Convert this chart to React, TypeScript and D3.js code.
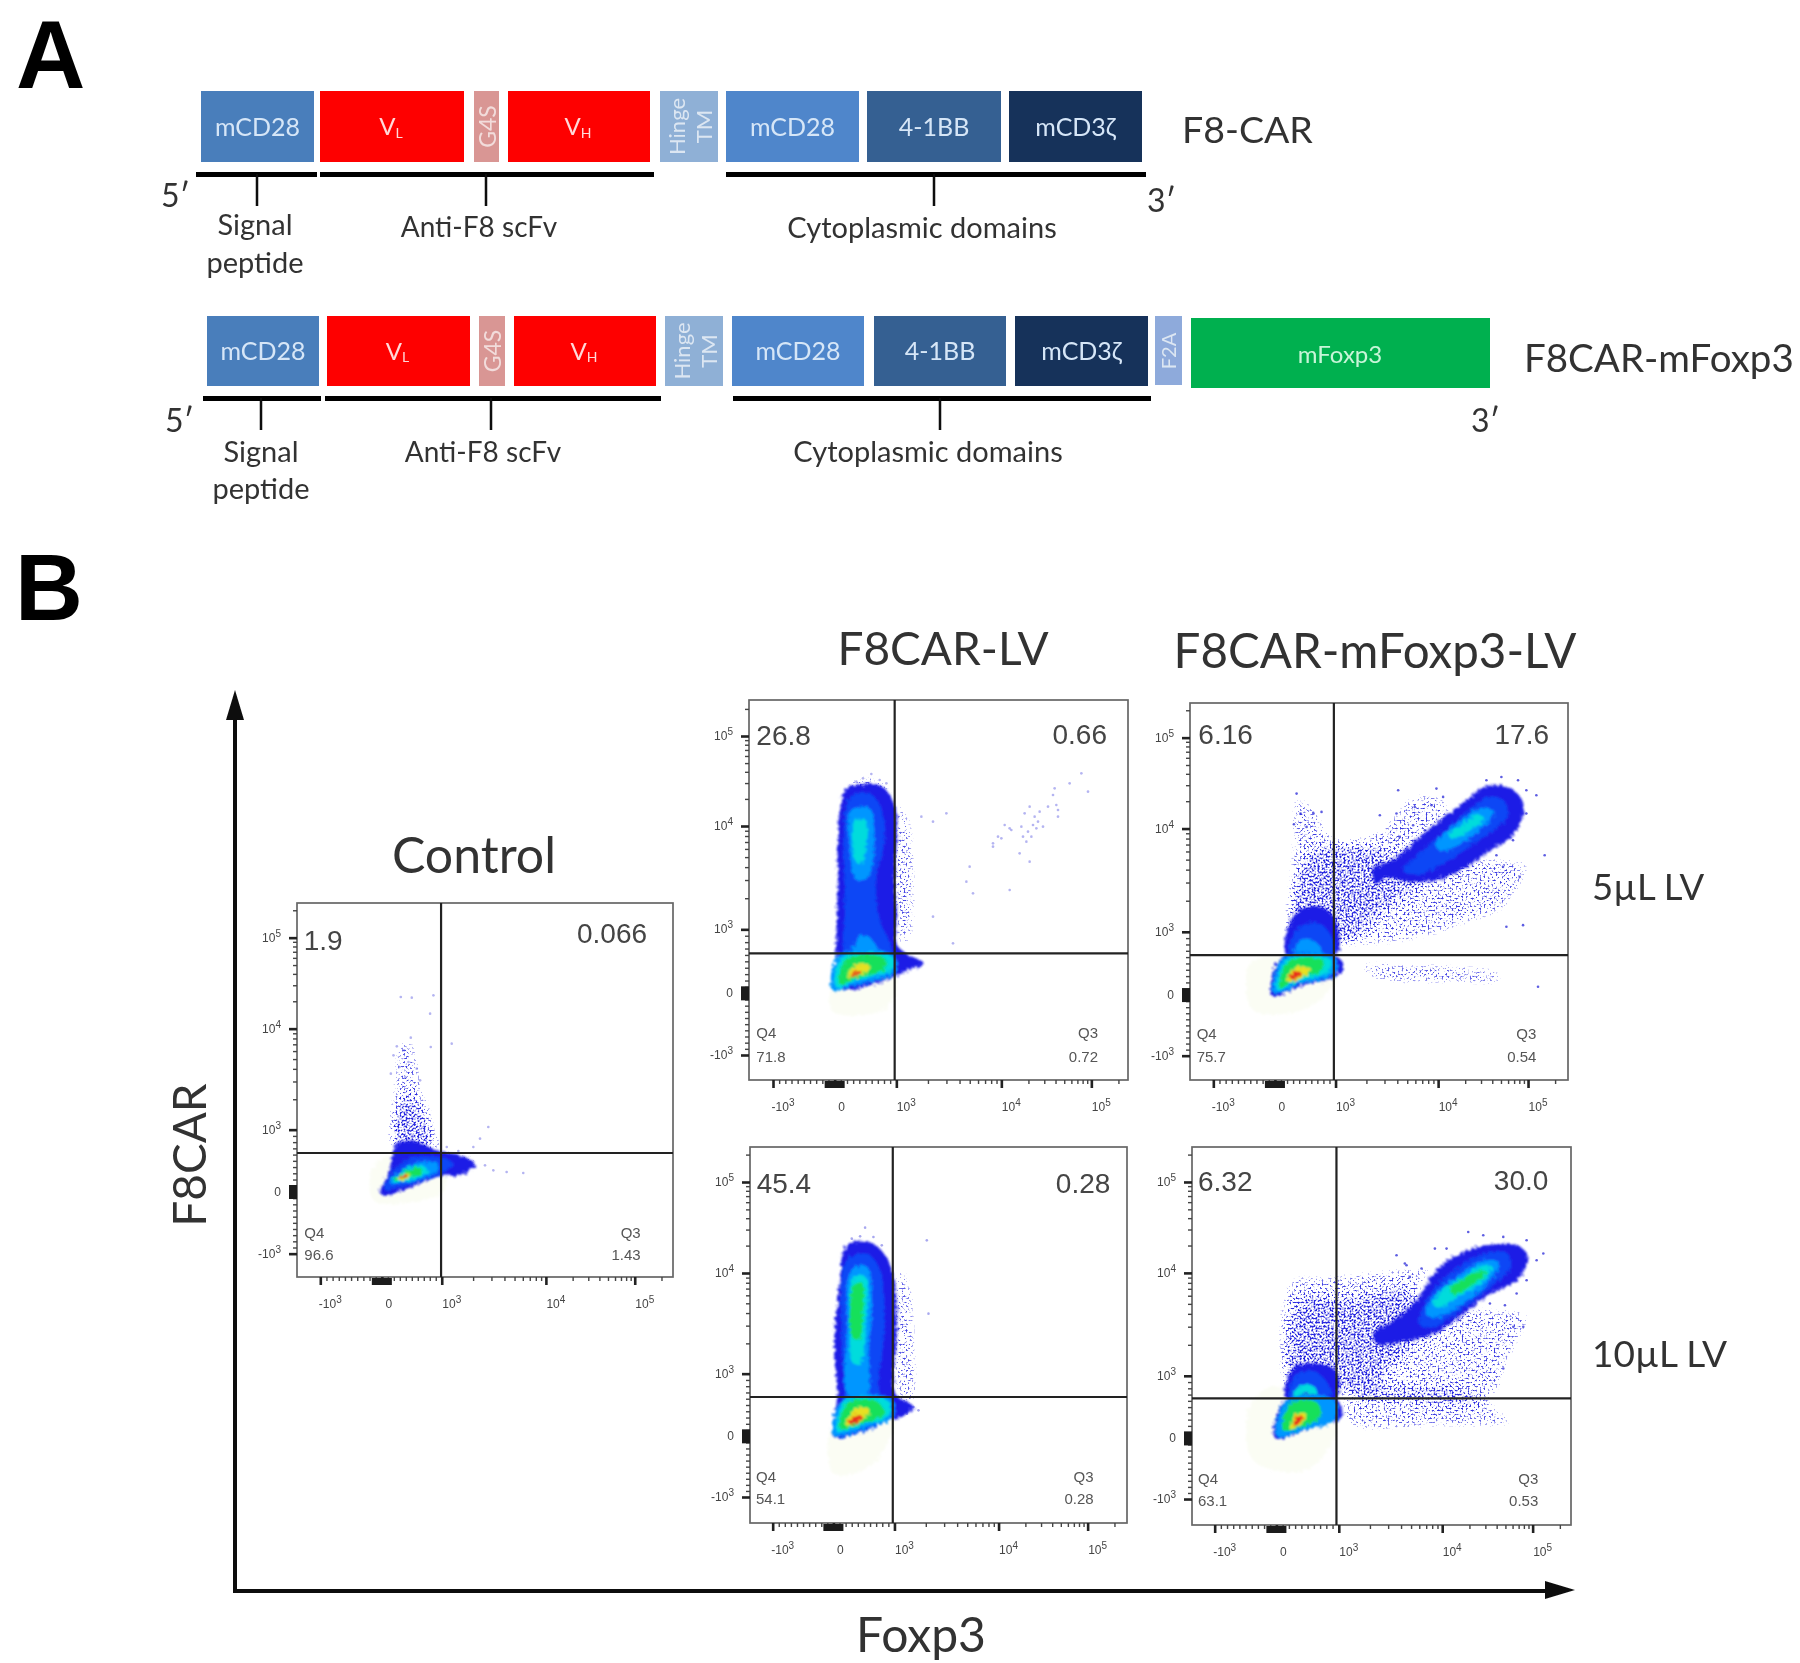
import React, { useEffect, useRef } from 'react';
import * as d3 from 'd3';

type Pt = [number, number];
type Contour = [number, Pt[]];

// Panel A: construct segments (positions along the construct)
const carLabels = ['mCD28', 'VL', 'G4S', 'VH', 'Hinge TM', 'mCD28', '4-1BB', 'mCD3ζ'];
const carColors = ['#4a7ebb', '#fe0000', '#d99694', '#fe0000', '#8fb0d6', '#4f86cb', '#366092', '#14305a'];
const car1Starts = [201, 320, 474, 508, 660, 726, 867, 1009];
const car1Ends = [314, 464, 499, 650, 718, 859, 1001, 1142];
const car2Starts = [207, 327, 479, 514, 665, 732, 874, 1015];
const car2Ends = [319, 470, 505, 656, 723, 864, 1006, 1148];
const car1Bars = [[196, 317], [320, 654], [726, 1146]];
const car2Bars = [[203, 321], [325, 661], [733, 1151]];
const car1Stems = [257, 486, 934];
const car2Stems = [261, 491, 940];

// Flow panels: colour levels of the pseudocolour density
// level -1 = sparse events, 1 = dense events, both drawn as grain; 0 = pale halo
const levelColors = ['#fbfdf4', '#b4b4f6', '#1a1ae6', '#0b46f5', '#0096ff', '#00dcdc', '#12e05a', '#e8e020', '#e8301a'];

const ctrlContours: Contour[] = [
  [0, [[395, 870], [440, 830], [600, 830], [610, 930], [520, 965], [400, 960]]],
  [-1, [[470, 470], [525, 470], [560, 600], [590, 700], [600, 810], [445, 810], [445, 620]]],
  [1, [[458, 810], [465, 690], [500, 640], [545, 690], [590, 810]]],
  [-1, [[600, 800], [700, 815], [745, 860], [700, 880], [620, 860]]],
  [2, [[420, 938], [448, 872], [458, 812], [478, 785], [530, 785], [590, 810], [660, 826], [705, 850], [670, 882], [600, 888], [500, 925], [438, 945]]],
  [3, [[432, 928], [470, 860], [520, 832], [605, 832], [640, 850], [600, 882], [500, 915]]],
  [4, [[448, 908], [490, 868], [530, 848], [592, 848], [592, 872], [500, 906]]],
  [5, [[455, 904], [495, 868], [545, 856], [565, 872], [495, 902]]],
  [6, [[462, 900], [500, 870], [540, 862], [545, 876], [490, 898]]],
  [7, [[472, 896], [498, 878], [512, 884], [486, 900]]],
  [8, [[478, 893], [496, 882], [502, 886], [486, 896]]],
];
const f5Contours: Contour[] = [
  [0, [[400, 925], [590, 890], [560, 985], [400, 995]]],
  [-1, [[590, 330], [640, 400], [660, 560], [640, 800], [590, 810]]],
  [-1, [[430, 300], [520, 272], [590, 320], [560, 360], [440, 350]]],
  [2, [[440, 328], [490, 312], [548, 320], [585, 375], [592, 450], [585, 600], [592, 700], [590, 790], [625, 825], [672, 850], [620, 872], [585, 890], [420, 925], [410, 820], [414, 650], [414, 500], [420, 400]]],
  [3, [[450, 352], [505, 338], [540, 375], [556, 470], [530, 600], [540, 720], [575, 800], [585, 870], [425, 915], [430, 810], [436, 650], [432, 470]]],
  [4, [[452, 392], [510, 385], [524, 480], [506, 592], [470, 600], [450, 500]]],
  [5, [[466, 425], [498, 420], [500, 500], [484, 552], [468, 545], [458, 490]]],
  [4, [[458, 822], [478, 770], [508, 770], [535, 822]]],
  [4, [[398, 932], [418, 825], [582, 825], [585, 878], [470, 912]]],
  [5, [[410, 922], [428, 832], [578, 830], [578, 866], [470, 902]]],
  [6, [[420, 914], [442, 835], [556, 835], [556, 866], [468, 896]]],
  [7, [[442, 892], [470, 852], [510, 858], [485, 885]]],
  [8, [[452, 888], [470, 872], [486, 876], [462, 892]]],
];
const m5Contours: Contour[] = [
  [0, [[330, 850], [410, 830], [590, 890], [500, 985], [340, 990]]],
  [-1, [[460, 330], [540, 380], [590, 460], [720, 430], [800, 340], [900, 330], [950, 400], [850, 500], [1060, 520], [1180, 540], [1100, 700], [1000, 740], [850, 790], [700, 810], [590, 810], [440, 810], [440, 520]]],
  [1, [[450, 810], [470, 620], [510, 520], [580, 500], [680, 500], [780, 530], [850, 600], [800, 640], [720, 700], [640, 780], [590, 810]]],
  [-1, [[640, 845], [800, 835], [1100, 870], [1100, 918], [960, 925], [680, 905]]],
  [2, [[1040, 318], [1112, 324], [1152, 372], [1130, 452], [1050, 512], [960, 572], [880, 602], [800, 602], [740, 592], [708, 612], [700, 570], [760, 538], [830, 480], [900, 420], [980, 360]]],
  [3, [[1040, 350], [1092, 360], [1102, 410], [1030, 472], [940, 532], [840, 582], [790, 572], [850, 510], [930, 440], [990, 390]]],
  [4, [[1030, 382], [1064, 394], [1040, 432], [960, 492], [900, 512], [888, 490], [950, 430]]],
  [5, [[1012, 402], [1034, 414], [982, 456], [935, 476], [928, 460], [970, 430]]],
  [2, [[438, 820], [468, 700], [540, 680], [586, 720], [590, 820]]],
  [3, [[448, 820], [480, 740], [540, 730], [582, 785], [582, 820]]],
  [4, [[462, 822], [490, 775], [530, 788], [548, 822]]],
  [2, [[392, 945], [428, 830], [590, 830], [612, 860], [585, 890], [480, 918], [410, 948]]],
  [4, [[402, 938], [432, 832], [584, 832], [584, 882], [478, 912]]],
  [5, [[412, 930], [440, 838], [572, 838], [570, 872], [472, 905]]],
  [6, [[420, 924], [446, 842], [552, 842], [546, 870], [470, 900]]],
  [7, [[438, 902], [470, 860], [512, 866], [482, 896]]],
  [8, [[448, 892], [470, 874], [486, 880], [460, 898]]],
];
const f10Contours: Contour[] = [
  [0, [[400, 890], [580, 860], [520, 1000], [400, 1030]]],
  [-1, [[590, 370], [640, 440], [660, 620], [650, 830], [590, 830]]],
  [2, [[438, 346], [500, 333], [552, 370], [582, 450], [590, 600], [586, 790], [640, 830], [600, 862], [575, 866], [500, 892], [402, 920], [412, 790], [403, 650], [420, 450]]],
  [3, [[440, 390], [500, 370], [540, 420], [552, 600], [540, 790], [575, 810], [575, 858], [410, 915], [430, 790], [424, 600]]],
  [4, [[454, 418], [500, 408], [516, 500], [506, 650], [500, 795], [445, 795], [440, 600]]],
  [5, [[460, 440], [496, 440], [498, 570], [482, 700], [460, 700], [450, 560]]],
  [6, [[460, 465], [486, 458], [490, 540], [476, 630], [456, 620], [450, 530]]],
  [4, [[400, 915], [430, 808], [576, 808], [576, 862], [500, 890]]],
  [5, [[412, 905], [436, 812], [564, 812], [566, 855], [480, 886]]],
  [6, [[420, 896], [445, 816], [532, 814], [552, 850], [470, 884]]],
  [7, [[436, 884], [470, 832], [508, 838], [482, 872]]],
  [8, [[446, 878], [470, 853], [486, 860], [460, 882]]],
];
const m10Contours: Contour[] = [
  [0, [[330, 830], [400, 770], [590, 880], [500, 1020], [340, 990]]],
  [-1, [[440, 440], [590, 420], [800, 400], [900, 400], [850, 500], [1060, 520], [1180, 540], [1110, 720], [1085, 795], [780, 795], [600, 795], [436, 800]]],
  [1, [[445, 800], [450, 600], [490, 500], [590, 510], [700, 490], [820, 480], [860, 560], [820, 640], [740, 720], [700, 790], [590, 800]]],
  [-1, [[600, 812], [1060, 815], [1140, 890], [900, 905], [620, 900]]],
  [2, [[1040, 345], [1130, 345], [1165, 380], [1130, 452], [1050, 490], [960, 560], [880, 612], [790, 635], [715, 642], [700, 610], [760, 570], [830, 510], [890, 420], [960, 370]]],
  [3, [[1040, 368], [1102, 370], [1112, 410], [1050, 472], [960, 542], [880, 592], [838, 582], [860, 510], [930, 430]]],
  [4, [[1030, 392], [1077, 395], [1060, 440], [980, 512], [890, 562], [858, 552], [880, 500], [950, 440]]],
  [5, [[1020, 408], [1057, 410], [1030, 452], [960, 497], [900, 532], [878, 520], [920, 470], [970, 440]]],
  [6, [[1010, 424], [1042, 425], [1000, 462], [945, 492], [928, 480], [970, 445]]],
  [2, [[438, 802], [460, 715], [520, 700], [586, 720], [590, 802]]],
  [3, [[450, 802], [470, 735], [525, 725], [570, 770], [572, 802]]],
  [5, [[458, 802], [480, 768], [522, 768], [532, 802]]],
  [2, [[406, 924], [438, 808], [590, 808], [606, 860], [490, 902]]],
  [4, [[412, 918], [442, 810], [585, 810], [585, 870], [490, 900]]],
  [6, [[430, 902], [450, 820], [530, 815], [542, 860], [470, 896]]],
  [7, [[450, 896], [470, 850], [502, 855], [480, 886]]],
  [8, [[460, 886], [475, 856], [490, 860], [470, 886]]],
];

// Individual events visible outside the dense cores
const ctrlEvents: Pt[] = [
  [470, 498], [492, 510], [512, 472], [460, 525], [505, 545], [478, 560], [530, 565], [452, 580], [495, 590], [540, 600],
  [482, 350], [515, 352], [580, 345], [570, 400], [572, 500], [635, 490], [720, 775], [745, 740], [700, 800], [760, 870],
  [800, 875], [850, 878], [620, 800], [655, 812], [690, 845], [735, 855],
];
const f5Events: Pt[] = [
  [515, 282], [540, 300], [490, 295], [470, 305], [560, 310], [740, 400], [700, 425], [665, 410], [800, 605], [820, 640],
  [930, 630], [700, 710], [760, 790], [810, 560], [880, 500], [905, 475], [915, 435], [935, 450], [965, 440], [975, 400],
  [990, 380], [1005, 410], [1020, 395], [1030, 440], [995, 470], [980, 485], [960, 520], [990, 545], [1045, 380], [1065, 325],
  [1070, 375], [1075, 410], [1110, 310], [1165, 335], [1145, 280], [1000, 435], [1015, 425], [985, 455], [1010, 445], [970, 470],
  [1060, 345], [1075, 390], [880, 490], [895, 470], [930, 445],
];
const m5Events: Pt[] = [
  [470, 340], [482, 400], [520, 398], [545, 395], [462, 432], [500, 440], [775, 330], [825, 380], [875, 375], [770, 400],
  [720, 405], [820, 435], [780, 470], [855, 450], [890, 325], [910, 350], [1090, 560], [1215, 525], [1140, 590], [1100, 740],
  [1150, 735], [1195, 920], [1040, 300], [1085, 290], [1135, 300], [1160, 330], [1190, 345], [1160, 400], [1120, 480], [1070, 525],
];
const f10Events: Pt[] = [
  [680, 330], [685, 550], [495, 292], [455, 325], [480, 318], [520, 320], [545, 345], [640, 830], [655, 840], [620, 850],
];
const m10Events: Pt[] = [
  [795, 400], [810, 440], [1120, 590], [1150, 590], [985, 305], [1030, 315], [1090, 320], [1160, 330], [1210, 370], [1190, 390],
  [1160, 450], [1130, 490], [1095, 525], [885, 355], [920, 355], [770, 375], [800, 405], [845, 415], [1050, 520], [1090, 715],
];

// Flow panels: names keep the order of drawing
const panelKeys = ['ctrl', 'f5', 'm5', 'f10', 'm10'];
const panelBoxes = [[297, 903, 673, 1277], [749, 700, 1128, 1080], [1190, 703, 1568, 1080], [750, 1147, 1127, 1523], [1192, 1147, 1571, 1525]];
const panelXDomains = [[170, 1300], [148, 1285], [150, 1285], [150, 1280], [157, 1293]];
const panelYDomains = [[1190, 68], [1200, 60], [1200, 68], [1178, 50], [1185, 50]];
const panelXGates = [603, 585, 582, 578, 590];
const panelYGates = [818, 820, 825, 800, 805];
const panelXTicks = [[240, 425, 605, 918, 1185], [220, 405, 590, 905, 1175], [220, 405, 587, 895, 1165], [218, 400, 583, 895, 1162], [225, 410, 597, 907, 1178]];
const panelYTicks = [[1120, 935, 748, 445, 172], [1125, 940, 748, 438, 168], [1127, 945, 755, 445, 172], [1100, 918, 730, 428, 155], [1107, 925, 737, 428, 155]];
const panelContours = [ctrlContours, f5Contours, m5Contours, f10Contours, m10Contours];
const panelEvents = [ctrlEvents, f5Events, m5Events, f10Events, m10Events];
const eventOpacity = [0.35, 0.35, 0.75, 0.4, 0.75];
const q1Labels = ['1.9', '26.8', '6.16', '45.4', '6.32'];
const q2Labels = ['0.066', '0.66', '17.6', '0.28', '30.0'];
const q4Labels = ['96.6', '71.8', '75.7', '54.1', '63.1'];
const q3Labels = ['1.43', '0.72', '0.54', '0.28', '0.53'];
// where the quadrant labels sit, in the same read-off units as the panels
const q1Base = [210, 195, 192, 187, 183];
const q2Base = [188, 192, 192, 187, 180];
const q1Left = [190, 170, 175, 170, 175];
const q2Right = [1222, 1222, 1228, 1230, 1225];
const qLowLeft = [192, 170, 170, 168, 175];
const qLowRight = [1203, 1195, 1190, 1180, 1195];
const qNameBase = [1072, 1075, 1078, 1055, 1062];
const qValueBase = [1138, 1146, 1146, 1122, 1128];
const tickLabels = ['-10', '0', '10', '10', '10'];
const tickPowers = ['3', '', '3', '4', '5'];

const SANS = 'Lato, "Open Sans", sans-serif';
const ARIAL = '"Liberation Sans", Arial, sans-serif';

// log-spaced and linear minor ticks between the labelled biexponential ticks
const minorTicks = (major: number[], end: number) => {
  const [n, z, p3, p4, p5] = major;
  const out: number[] = [];
  const dir = p3 > z ? 1 : -1;
  for (let k = 2; k < 10; k++) {
    out.push(p3 + Math.log10(k) * (p4 - p3), p4 + Math.log10(k) * (p5 - p4));
    const past = p5 + Math.log10(k) * (p5 - p4);
    if ((past - end) * dir < 0) out.push(past);
  }
  for (let j = 1; j < 10; j++) out.push(z + ((p3 - z) * j) / 10, n + ((z - n) * j) / 10);
  return out;
};

const App = () => {
  const svgRef = useRef<SVGSVGElement>(null);

  useEffect(() => {
    const svg = d3.select(svgRef.current);
    svg.selectAll('*').remove();

    const defs = svg.append('defs');
    defs.append('filter').attr('id', 'soft').append('feGaussianBlur').attr('stdDeviation', 0.75);

    // density cores: soft, with frayed edges like a pseudocolour plot
    const core = defs.append('filter').attr('id', 'density').attr('x', '-10%').attr('y', '-10%').attr('width', '120%').attr('height', '120%');
    core.append('feTurbulence').attr('type', 'fractalNoise').attr('baseFrequency', 0.35).attr('numOctaves', 2).attr('seed', 4).attr('result', 'n');
    core.append('feDisplacementMap').attr('in', 'SourceGraphic').attr('in2', 'n').attr('scale', 7).attr('result', 'd');
    core.append('feGaussianBlur').attr('in', 'd').attr('stdDeviation', 1.3);

    // grain: turns the sparse outlines into a speckle that thins out towards the edge
    const grain = defs.append('filter').attr('id', 'grain').attr('x', '-15%').attr('y', '-15%').attr('width', '130%').attr('height', '130%')
      .attr('color-interpolation-filters', 'sRGB');
    grain.append('feGaussianBlur').attr('in', 'SourceAlpha').attr('stdDeviation', 7).attr('result', 'b');
    grain.append('feTurbulence').attr('type', 'fractalNoise').attr('baseFrequency', 0.5).attr('numOctaves', 2).attr('seed', 11).attr('result', 't');
    grain.append('feColorMatrix').attr('in', 't').attr('type', 'matrix').attr('values', '0 0 0 0 0  0 0 0 0 0  0 0 0 0 0  1.4 0 0 0 0').attr('result', 'n');
    grain.append('feComposite').attr('in', 'b').attr('in2', 'n').attr('operator', 'arithmetic').attr('k1', 1).attr('result', 'p');
    const gt = grain.append('feComponentTransfer').attr('in', 'p').attr('result', 'm');
    gt.append('feFuncA').attr('type', 'linear').attr('slope', 7).attr('intercept', -2.6);
    grain.append('feFlood').attr('flood-color', '#2a2ae0').attr('result', 'c');
    grain.append('feComposite').attr('in', 'c').attr('in2', 'm').attr('operator', 'in');

    svg.append('rect').attr('width', 1800).attr('height', 1663).attr('fill', '#fff');
    const root = svg.append('g').attr('filter', 'url(#soft)');

    const label = (x: number, y: number, text: string, size: number, opts: any = {}) =>
      root.append('text').attr('x', x).attr('y', y).text(text)
        .attr('font-family', opts.family || SANS).attr('font-size', size)
        .attr('font-weight', opts.weight || 400).attr('fill', opts.fill || '#333')
        .attr('text-anchor', opts.anchor || 'start');

    label(16, 88, 'A', 96, { family: ARIAL, weight: 700, fill: '#000' });
    label(15, 620, 'B', 94, { family: ARIAL, weight: 700, fill: '#000' });

    // Panel A
    const drawConstruct = (starts: number[], ends: number[], bars: number[][], stems: number[], top: number, bottom: number) => {
      const x = d3.scaleLinear().domain([0, 1800]).range([0, 1800]);
      const g = root.append('g');
      const mid = (top + bottom) / 2;
      carLabels.forEach((name, i) => {
        const x0 = x(starts[i]);
        const x1 = x(ends[i]);
        const cx = (x0 + x1) / 2;
        g.append('rect').attr('x', x0).attr('y', top).attr('width', x1 - x0).attr('height', bottom - top).attr('fill', carColors[i]);
        const text = (s: string, px: number, py: number, size: number, fill: string, rotate = false) =>
          g.append('text').attr('x', px).attr('y', py).attr('font-family', SANS).attr('font-size', size)
            .attr('fill', fill).attr('text-anchor', 'middle').attr('dominant-baseline', 'central')
            .attr('transform', rotate ? `rotate(-90 ${px} ${py})` : null).text(s);
        if (name === 'VL' || name === 'VH') {
          const t = text('V', cx - 1, mid - 1, 24, '#ffd9d9');
          t.append('tspan').attr('font-size', 14).attr('dy', 6).text(name[1]);
        } else if (name === 'G4S') {
          text(name, cx, mid, 23, '#f2dcdb', true);
        } else if (name === 'Hinge TM') {
          text('Hinge', cx - 13, mid, 22, '#dce6f2', true);
          text('TM', cx + 14, mid, 22, '#dce6f2', true);
        } else {
          text(name, cx, mid - 1, 25, '#d6e6f7');
        }
      });
      bars.forEach(b => {
        g.append('rect').attr('x', x(b[0])).attr('y', bottom + 10).attr('width', x(b[1]) - x(b[0])).attr('height', 5).attr('fill', '#000');
      });
      stems.forEach(s => {
        g.append('line').attr('x1', x(s)).attr('x2', x(s)).attr('y1', bottom + 12).attr('y2', bottom + 44).attr('stroke', '#111').attr('stroke-width', 2.5);
      });
    };
    drawConstruct(car1Starts, car1Ends, car1Bars, car1Stems, 91, 162);
    drawConstruct(car2Starts, car2Ends, car2Bars, car2Stems, 316, 386);

    root.append('rect').attr('x', 1155).attr('y', 316).attr('width', 27).attr('height', 69).attr('fill', '#8eaadb');
    root.append('text').attr('x', 1168).attr('y', 351).attr('font-family', SANS).attr('font-size', 20).attr('fill', '#dce6f2')
      .attr('text-anchor', 'middle').attr('dominant-baseline', 'central').attr('transform', 'rotate(-90 1168 351)').text('F2A');
    root.append('rect').attr('x', 1191).attr('y', 318).attr('width', 299).attr('height', 70).attr('fill', '#00b050');
    root.append('text').attr('x', 1340).attr('y', 363).attr('font-family', SANS).attr('font-size', 24).attr('fill', '#c8f5d8')
      .attr('text-anchor', 'middle').text('mFoxp3');

    label(161, 207, '5′', 32);
    label(1147, 212, '3′', 32);
    label(165, 432, '5′', 32);
    label(1471, 432, '3′', 32);
    label(255, 235, 'Signal', 29, { anchor: 'middle' });
    label(255, 273, 'peptide', 29, { anchor: 'middle' });
    label(479, 237, 'Anti-F8 scFv', 28, { anchor: 'middle' });
    label(922, 238, 'Cytoplasmic domains', 29, { anchor: 'middle' });
    label(261, 462, 'Signal', 29, { anchor: 'middle' });
    label(261, 499, 'peptide', 29, { anchor: 'middle' });
    label(483, 462, 'Anti-F8 scFv', 28, { anchor: 'middle' });
    label(928, 462, 'Cytoplasmic domains', 29, { anchor: 'middle' });
    label(1182, 143, 'F8-CAR', 37.5);
    label(1524, 372, 'F8CAR-mFoxp3', 38.5);

    // Panel B: big axes and titles
    const axes = root.append('g').attr('stroke', '#111').attr('stroke-width', 4).attr('fill', 'none');
    axes.append('path').attr('d', 'M235,1591V705');
    axes.append('path').attr('d', 'M233,1591H1555');
    root.append('path').attr('d', 'M235,690l-9,30h18z').attr('fill', '#111');
    root.append('path').attr('d', 'M1575,1590l-30,-9v18z').attr('fill', '#111');
    label(921, 1652, 'Foxp3', 48, { anchor: 'middle' });
    label(206, 1155, 'F8CAR', 46, { anchor: 'middle' }).attr('transform', 'rotate(-90 206 1155)');
    label(474, 873, 'Control', 50, { anchor: 'middle' });
    label(943, 665, 'F8CAR-LV', 46, { anchor: 'middle' });
    label(1375, 668, 'F8CAR-mFoxp3-LV', 47.5, { anchor: 'middle' });
    label(1592, 900, '5µL LV', 36.5);
    label(1592, 1367, '10µL LV', 37);

    // Flow panels
    panelKeys.forEach((key, i) => {
      const [left, top, right, bottom] = panelBoxes[i];
      const x = d3.scaleLinear().domain(panelXDomains[i]).range([left, right]);
      const y = d3.scaleLinear().domain(panelYDomains[i]).range([bottom, top]);
      const g = root.append('g').attr('class', key);

      const outline = d3.line<Pt>().x(d => x(d[0])).y(d => y(d[1])).curve(d3.curveCatmullRomClosed);
      const clip = `clip-${key}`;
      defs.append('clipPath').attr('id', clip).append('rect').attr('x', left).attr('y', top).attr('width', right - left).attr('height', bottom - top);
      const plot = g.append('g').attr('clip-path', `url(#${clip})`);
      const contours = panelContours[i];

      const halo = plot.append('g').attr('filter', 'url(#density)');
      contours.filter(c => c[0] === 0).forEach(c => {
        halo.append('path').attr('d', outline(c[1])).attr('fill', levelColors[0]);
      });
      const sparse = plot.append('g').attr('filter', 'url(#grain)');
      contours.filter(c => c[0] === -1 || c[0] === 1).forEach(c => {
        sparse.append('path').attr('d', outline(c[1])).attr('fill', '#000').attr('fill-opacity', c[0] === 1 ? 0.18 : 0.5);
      });
      plot.append('g').selectAll('circle').data(panelEvents[i]).join('circle')
        .attr('cx', d => x(d[0])).attr('cy', d => y(d[1])).attr('r', 1.3).attr('fill', '#2828d8')
        .attr('opacity', eventOpacity[i]);
      const dens = plot.append('g').attr('filter', 'url(#density)');
      contours.filter(c => c[0] >= 2).forEach(c => {
        dens.append('path').attr('d', outline(c[1])).attr('fill', levelColors[c[0]]);
      });

      // frame and quadrant gates
      g.append('rect').attr('x', left).attr('y', top).attr('width', right - left).attr('height', bottom - top)
        .attr('fill', 'none').attr('stroke', '#666').attr('stroke-width', 1.7);
      g.append('line').attr('x1', x(panelXGates[i])).attr('x2', x(panelXGates[i])).attr('y1', top).attr('y2', bottom)
        .attr('stroke', '#222').attr('stroke-width', 2.2);
      g.append('line').attr('x1', left).attr('x2', right).attr('y1', y(panelYGates[i])).attr('y2', y(panelYGates[i]))
        .attr('stroke', '#222').attr('stroke-width', 2.2);

      // axes
      const xT = panelXTicks[i];
      const yT = panelYTicks[i];
      const styleAxis = (sel: any, w: number, colour: string) => {
        sel.select('.domain').remove();
        sel.selectAll('line').attr('stroke', colour).attr('stroke-width', w);
      };
      g.append('g').attr('transform', `translate(0,${bottom})`)
        .call(d3.axisBottom(x).tickValues(minorTicks(xT, panelXDomains[i][1])).tickSize(4).tickFormat(() => '') as any)
        .call(styleAxis, 1.4, '#444');
      g.append('g').attr('transform', `translate(0,${bottom})`)
        .call(d3.axisBottom(x).tickValues(xT).tickSize(8).tickFormat(() => '') as any)
        .call(styleAxis, 2.6, '#222');
      g.append('g').attr('transform', `translate(${left},0)`)
        .call(d3.axisLeft(y).tickValues(minorTicks(yT, panelYDomains[i][1])).tickSize(4).tickFormat(() => '') as any)
        .call(styleAxis, 1.4, '#444');
      g.append('g').attr('transform', `translate(${left},0)`)
        .call(d3.axisLeft(y).tickValues(yT).tickSize(8).tickFormat(() => '') as any)
        .call(styleAxis, 2.6, '#222');
      // event pile-up on the zero channel
      g.append('rect').attr('x', x(xT[1]) - 10).attr('y', bottom + 1).attr('width', 20).attr('height', 7).attr('fill', '#1a1a1a');
      g.append('rect').attr('x', left - 8).attr('y', y(yT[1]) - 7).attr('width', 8).attr('height', 14).attr('fill', '#1a1a1a');

      const tickText = (px: number, py: number, j: number, anchor: string) => {
        const t = g.append('text').attr('x', px).attr('y', py).attr('font-family', ARIAL).attr('font-size', 12)
          .attr('fill', '#444').attr('text-anchor', anchor).text(tickLabels[j]);
        if (tickPowers[j]) t.append('tspan').attr('font-size', 10).attr('dy', -5).text(tickPowers[j]);
      };
      xT.forEach((t, j) => tickText(x(t) + (j === 1 ? 7 : 10), bottom + 31, j, 'middle'));
      yT.forEach((t, j) => tickText(left - 16, y(t) + 4, j, 'end'));

      // quadrant percentages
      const num = (px: number, py: number, s: string, size: number, anchor: string, fill = '#444') =>
        g.append('text').attr('x', px).attr('y', py).attr('font-family', ARIAL).attr('font-size', size)
          .attr('fill', fill).attr('text-anchor', anchor).text(s);
      num(x(q1Left[i]), y(q1Base[i]), q1Labels[i], 28, 'start');
      num(x(q2Right[i]), y(q2Base[i]), q2Labels[i], 28, 'end');
      num(x(qLowLeft[i]), y(qNameBase[i]), 'Q4', 15, 'start', '#555');
      num(x(qLowLeft[i]), y(qValueBase[i]), q4Labels[i], 15, 'start', '#555');
      num(x(qLowRight[i]), y(qNameBase[i]), 'Q3', 15, 'end', '#555');
      num(x(qLowRight[i]), y(qValueBase[i]), q3Labels[i], 15, 'end', '#555');
    });
  }, []);

  return <svg ref={svgRef} width="1800" height="1663" style={{ position: 'absolute', left: 0, top: 0, display: 'block' }}></svg>;
};

export default App;
